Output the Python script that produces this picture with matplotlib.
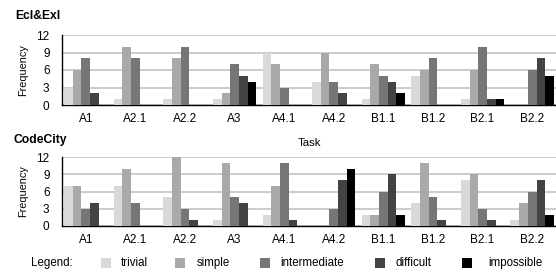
import matplotlib
matplotlib.use("Agg")
import matplotlib.pyplot as plt
import numpy as np
from matplotlib.patches import Rectangle

plt.rcParams['font.family'] = ['Liberation Sans', 'DejaVu Sans']

tasks = ["A1", "A2.1", "A2.2", "A3", "A4.1", "A4.2", "B1.1", "B1.2", "B2.1", "B2.2"]
levels = ["trivial", "simple", "intermediate", "difficult", "impossible"]
colors = ["#d9d9d9", "#a9a9a9", "#767676", "#434343", "#000000"]

# Ecl&Exl frequencies per level
ecl_trivial      = [3, 1, 1, 1, 9, 4, 1, 5, 1, 0]
ecl_simple       = [6, 10, 8, 2, 7, 9, 7, 6, 6, 0]
ecl_intermediate = [8, 8, 10, 7, 3, 4, 5, 8, 10, 6]
ecl_difficult    = [2, 0, 0, 5, 0, 2, 4, 0, 1, 8]
ecl_impossible   = [0, 0, 0, 4, 0, 0, 2, 0, 1, 5]

# CodeCity frequencies per level
cc_trivial      = [7, 7, 5, 1, 2, 0, 2, 4, 8, 1]
cc_simple       = [7, 10, 12, 11, 7, 0, 2, 11, 9, 4]
cc_intermediate = [3, 4, 3, 5, 11, 3, 6, 5, 3, 6]
cc_difficult    = [4, 0, 1, 4, 1, 8, 9, 1, 1, 8]
cc_impossible   = [0, 0, 0, 0, 0, 10, 2, 0, 0, 2]

yticks = [0, 3, 6, 9, 12]

W, H = 556, 273
fig = plt.figure(figsize=(W / 100, H / 100), dpi=100)

def fx(px):
    return px / W

def fy(py):
    return 1 - py / H

left = fx(62)
ax1 = fig.add_axes([left, fy(105), 1 - left, fy(35) - fy(105)])
ax2 = fig.add_axes([left, fy(226), 1 - left, fy(157) - fy(226)])

bw = 0.175
x = np.arange(len(tasks))

def draw(ax, series):
    for k, (vals, c) in enumerate(zip(series, colors)):
        ax.bar(x + (k - 2) * bw, vals, width=bw, color=c, align='center', zorder=3, linewidth=0)
    ax.set_xlim(-0.48, 9.48)
    ax.set_ylim(0, 12)
    ax.set_yticks(yticks)
    ax.set_xticks(x)
    ax.set_xticklabels(tasks, fontsize=8.5)
    ax.tick_params(axis='y', length=0, pad=9, labelsize=8.5)
    ax.tick_params(axis='x', length=0, pad=6)
    ax.grid(axis='y', color='#c8c8c8', linewidth=1.3, zorder=0)
    ax.set_axisbelow(True)
    for s in ['top', 'right']:
        ax.spines[s].set_visible(False)
    ax.spines['left'].set_linewidth(1.0)
    ax.spines['bottom'].set_linewidth(1.0)
    ax.set_ylabel("Frequency", fontsize=7.8, labelpad=6)

draw(ax1, [ecl_trivial, ecl_simple, ecl_intermediate, ecl_difficult, ecl_impossible])
draw(ax2, [cc_trivial, cc_simple, cc_intermediate, cc_difficult, cc_impossible])

ax1.set_xlabel("Task", fontsize=8.2, labelpad=9)

fig.text(fx(15), fy(16), "Ecl&Exl", fontsize=8.7, fontweight='bold', va='center', ha='left')
fig.text(fx(14), fy(140), "CodeCity", fontsize=8.7, fontweight='bold', va='center', ha='left')

# Legend row
ly = 263
fig.text(fx(31), fy(ly), "Legend:", fontsize=8.3, va='center', ha='left')
sq_x = [101, 175, 260, 375, 462]
tx_x = [121, 197, 280, 395, 488]
for c, lab, sx, tx in zip(colors, levels, sq_x, tx_x):
    fig.patches.append(Rectangle((fx(sx), fy(ly + 5)), fx(10), 10 / H, transform=fig.transFigure,
                                 facecolor=c, edgecolor='none'))
    fig.text(fx(tx), fy(ly), lab, fontsize=8.3, va='center', ha='left')

fig.savefig("out.png", dpi=100)
